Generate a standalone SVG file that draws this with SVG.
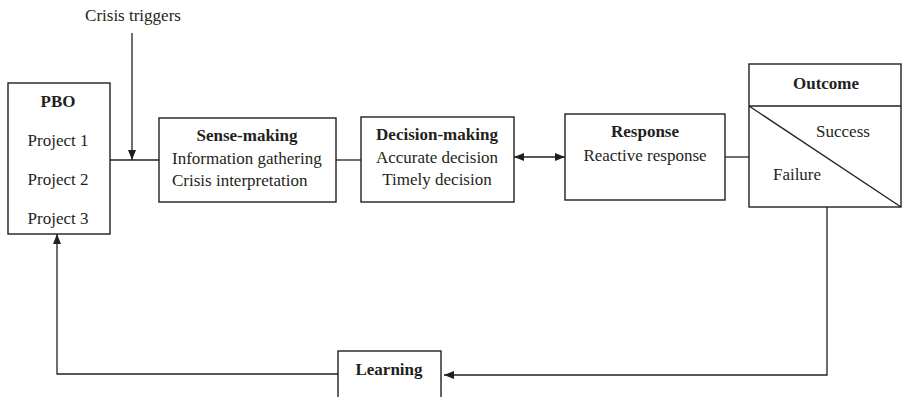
<svg xmlns="http://www.w3.org/2000/svg" width="903" height="397" viewBox="0 0 903 397">
<style>
.box{fill:#fff;stroke:#231f20;stroke-width:1.4}
.ln{fill:none;stroke:#231f20;stroke-width:1.3}
text{font-family:"Liberation Serif","Times New Roman",serif;font-size:17px;fill:#231f20}
.b{font-weight:bold}
.c{text-anchor:middle}
</style>
<defs>
<marker id="ah" viewBox="0 0 10 10" refX="10" refY="5" markerWidth="10" markerHeight="10" markerUnits="userSpaceOnUse" orient="auto-start-reverse">
<path d="M0,1 L10,5 L0,9 Z" fill="#231f20"/>
</marker>
</defs>
<g id="connectors">
<line class="ln" x1="110" y1="160" x2="159" y2="160"/>
<line class="ln" x1="132" y1="33" x2="132" y2="160" marker-end="url(#ah)"/>
<line class="ln" x1="336" y1="160" x2="361" y2="160"/>
<line class="ln" x1="514" y1="157" x2="565" y2="157" marker-start="url(#ah)" marker-end="url(#ah)"/>
<line class="ln" x1="725" y1="157" x2="749" y2="157"/>
<polyline class="ln" points="827,207 827,375 444,375" marker-end="url(#ah)"/>
<polyline class="ln" points="338,374 57,374 57,234" marker-end="url(#ah)"/>
</g>
<text id="crisis" x="133" y="21" class="c">Crisis triggers</text>
<g id="pbo">
<rect class="box" x="8" y="83" width="102" height="151"/>
<text x="58" y="107" class="c b">PBO</text>
<text x="58" y="146" class="c">Project 1</text>
<text x="58" y="185" class="c">Project 2</text>
<text x="58" y="224" class="c">Project 3</text>
</g>
<g id="sense">
<rect class="box" x="159" y="118" width="177" height="84"/>
<text x="247" y="141" class="c b">Sense-making</text>
<text x="172" y="164">Information gathering</text>
<text x="172" y="186">Crisis interpretation</text>
</g>
<g id="decision">
<rect class="box" x="361" y="117" width="153" height="85"/>
<text x="437" y="140" class="c b">Decision-making</text>
<text x="437" y="163" class="c">Accurate decision</text>
<text x="437" y="185" class="c">Timely decision</text>
</g>
<g id="response">
<rect class="box" x="565" y="114" width="160" height="86"/>
<text x="645" y="137" class="c b">Response</text>
<text x="645" y="161" class="c">Reactive response</text>
</g>
<g id="outcome">
<rect class="box" x="749" y="64" width="152" height="143"/>
<line class="ln" x1="749" y1="106" x2="901" y2="106"/>
<line class="ln" x1="749" y1="106" x2="901" y2="207"/>
<text x="826" y="89" class="c b">Outcome</text>
<text x="843" y="137" class="c">Success</text>
<text x="797" y="180" class="c">Failure</text>
</g>
<g id="learning">
<rect class="box" x="338" y="351" width="103" height="60"/>
<text x="389" y="375" class="c b">Learning</text>
</g>
</svg>
